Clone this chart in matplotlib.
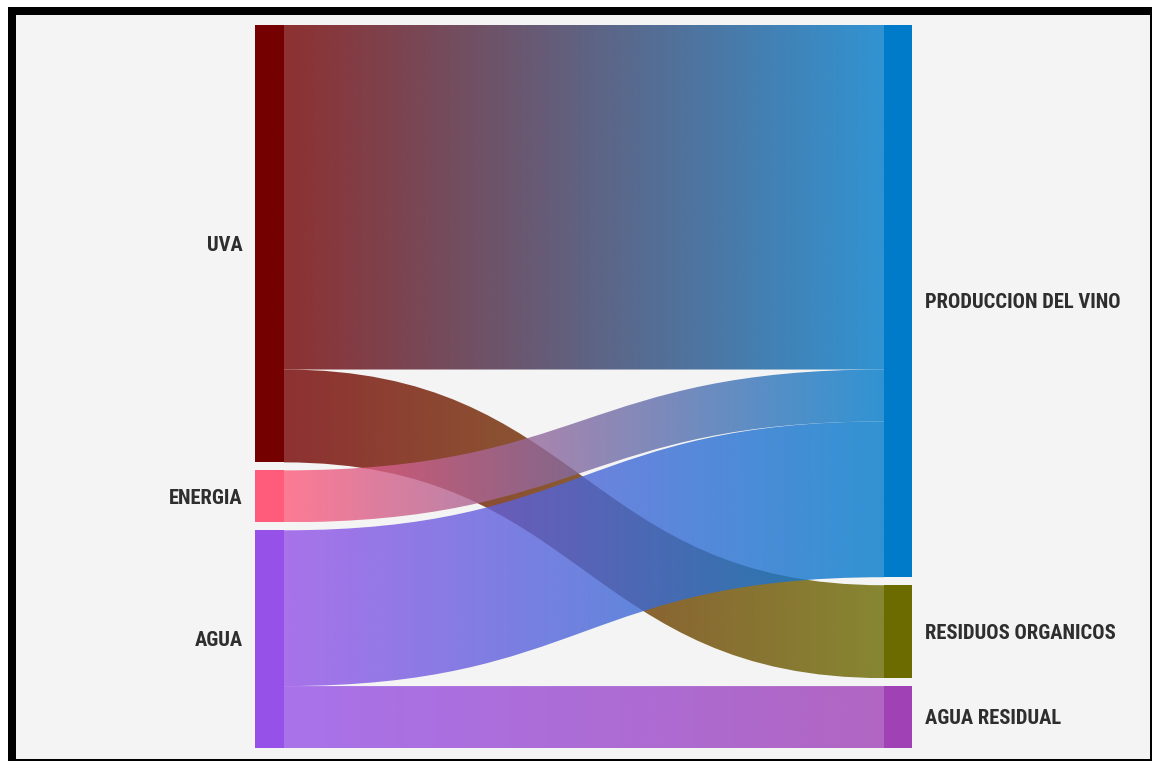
import numpy as np
import matplotlib.pyplot as plt
from matplotlib import font_manager
from matplotlib.path import Path
from matplotlib.patches import PathPatch, Rectangle
from matplotlib.colors import to_rgb

# nodos y flujos (unidades relativas)
left_nodes = ["UVA", "ENERGIA", "AGUA"]
right_nodes = ["PRODUCCION DEL VINO", "RESIDUOS ORGANICOS", "AGUA RESIDUAL"]
left_colors = ["#740000", "#ff5c7c", "#9652e8"]
right_colors = ["#007bca", "#6b6b00", "#a042b6"]

sources = ["UVA", "UVA", "ENERGIA", "AGUA", "AGUA"]
targets = ["PRODUCCION DEL VINO", "RESIDUOS ORGANICOS", "PRODUCCION DEL VINO",
           "PRODUCCION DEL VINO", "AGUA RESIDUAL"]
values = [345, 93, 52, 156, 62]

W, H = 1153, 762
fig = plt.figure(figsize=(W / 100, H / 100), dpi=100, facecolor="white")
ax = fig.add_axes([0, 0, 1, 1])
ax.set_xlim(0, W)
ax.set_ylim(H, 0)
ax.axis("off")

# marco negro y fondo gris
ax.add_patch(Rectangle((8, 7), 1144, 754, facecolor="black", edgecolor="none", zorder=0))
ax.add_patch(Rectangle((16, 15), 1134, 744, facecolor="#f4f4f4", edgecolor="none", zorder=0))

# disposicion
top, bottom, gap = 25, 748, 8
lx, lw = 255, 29
rx, rw = 884, 28
link_alpha = 0.8

left_tot = {n: sum(v for s, v in zip(sources, values) if s == n) for n in left_nodes}
right_tot = {n: sum(v for t, v in zip(targets, values) if t == n) for n in right_nodes}
total = max(sum(left_tot.values()), sum(right_tot.values()))
scale = (bottom - top - gap * (len(left_nodes) - 1)) / total


def stack(names, tots):
    pos, y = {}, top
    for n in names:
        h = tots[n] * scale
        pos[n] = [y, y + h]
        y += h + gap
    return pos


lpos = stack(left_nodes, left_tot)
rpos = stack(right_nodes, right_tot)
lcur = {n: lpos[n][0] for n in left_nodes}
rcur = {n: rpos[n][0] for n in right_nodes}
lcol = dict(zip(left_nodes, left_colors))
rcol = dict(zip(right_nodes, right_colors))

x0, x1 = lx + lw, rx
xm = (x0 + x1) / 2
for s, t, v in zip(sources, targets, values):
    h = v * scale
    ys0, ys1 = lcur[s], lcur[s] + h
    yt0, yt1 = rcur[t], rcur[t] + h
    lcur[s] += h
    rcur[t] += h
    verts = [(x0, ys0), (xm, ys0), (xm, yt0), (x1, yt0),
             (x1, yt1), (xm, yt1), (xm, ys1), (x0, ys1), (x0, ys0)]
    codes = [Path.MOVETO, Path.CURVE4, Path.CURVE4, Path.CURVE4,
             Path.LINETO, Path.CURVE4, Path.CURVE4, Path.CURVE4, Path.CLOSEPOLY]
    patch = PathPatch(Path(verts, codes), facecolor="none", edgecolor="none",
                      transform=ax.transData)
    c0, c1 = np.array(to_rgb(lcol[s])), np.array(to_rgb(rcol[t]))
    f = np.linspace(0, 1, 256)[:, None]
    grad = np.ones((1, 256, 4))
    grad[0, :, :3] = c0 * (1 - f) + c1 * f
    grad[0, :, 3] = link_alpha
    ymin, ymax = min(ys0, yt0), max(ys1, yt1)
    im = ax.imshow(grad, extent=[x0, x1, ymax, ymin], aspect="auto",
                   interpolation="bilinear", zorder=2)
    im.set_clip_path(patch)

# fuente estrecha si existe alguna instalada
fonts = [(f.name, f.stretch) for f in font_manager.fontManager.ttflist]
family, stretch = "DejaVu Sans", "normal"
for name in ["Roboto Condensed", "Liberation Sans Narrow", "Open Sans Condensed",
             "Noto Sans Condensed", "DejaVu Sans"]:
    narrow = [st for n, st in fonts if n == name and st not in ("normal", 500)]
    if narrow:
        family, stretch = name, narrow[0]
        break

font = dict(family=[family, "DejaVu Sans"], fontstretch=stretch, fontweight="bold",
            fontsize=14.5, color="#2e2e2e")

# ajustar el tamano para que la etiqueta mas larga quepa en ~210 px
probe = fig.text(0, 0, max(right_nodes, key=len), **font)
width = probe.get_window_extent(fig.canvas.get_renderer()).width
probe.remove()
font["fontsize"] = min(14.8, 14.5 * 210 / width)
cap = 0.71 * font["fontsize"] * 100 / 72  # altura de mayusculas en px

# rectangulos de nodos y etiquetas
for n in left_nodes:
    y0, y1 = lpos[n]
    ax.add_patch(Rectangle((lx, y0), lw, y1 - y0, facecolor=lcol[n],
                           edgecolor="none", zorder=3))
    ax.text(lx - 12, (y0 + y1) / 2 + cap / 2, n, ha="right", va="baseline", **font)
for n in right_nodes:
    y0, y1 = rpos[n]
    ax.add_patch(Rectangle((rx, y0), rw, y1 - y0, facecolor=rcol[n],
                           edgecolor="none", zorder=3))
    ax.text(rx + rw + 13, (y0 + y1) / 2 + cap / 2, n, ha="left", va="baseline", **font)

fig.savefig("out.png", dpi=100, facecolor="white")
